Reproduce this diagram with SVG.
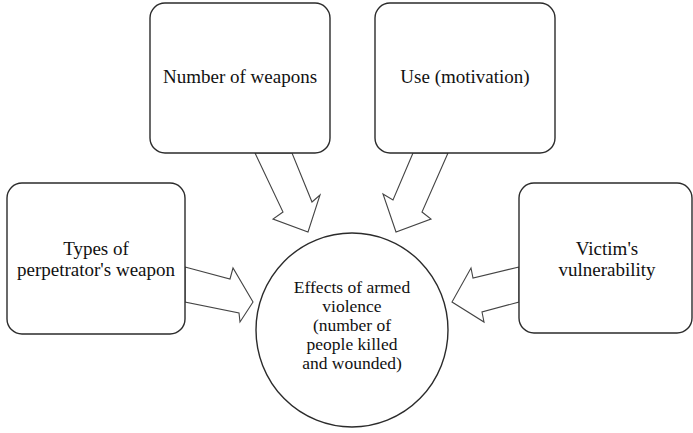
<svg xmlns="http://www.w3.org/2000/svg" width="693" height="433" viewBox="0 0 693 433">
<style>
.box{fill:#fff;stroke:#2b2b2b;stroke-width:1.4}
.arr{fill:#fff;stroke:#444;stroke-width:1.1;stroke-linejoin:miter}
.t{font-family:'Liberation Serif','DejaVu Serif',serif;font-size:19px;fill:#111;text-anchor:middle}
.c{font-size:17.5px}
</style>
<rect width="693" height="433" fill="#fff"/>
<g id="connectors">
<polygon class="arr" points="185,267 230,279 233,268 253,302 240,322 239,313 185,302"/>
<polygon class="arr" points="519,267 473,278 471,268 452,302 484,322 482,312 519,302"/>
<polygon class="arr" points="255,153 283,212 273,219 308,232 320,195 312,202 292,153"/>
<polygon class="arr" points="413,153 393,200 383,194 396,232 431,219 422,212 448,153"/>
</g>
<g id="node-weapons">
<rect class="box" x="150" y="3" width="180" height="150" rx="15"/>
<text class="t" x="240" y="83">Number of weapons</text>
</g>
<g id="node-use">
<rect class="box" x="375" y="3" width="180" height="150" rx="15"/>
<text class="t" x="465" y="83">Use (motivation)</text>
</g>
<g id="node-types">
<rect class="box" x="7" y="183" width="178" height="151" rx="15"/>
<text class="t" x="96" y="255">Types of</text>
<text class="t" x="96" y="276">perpetrator's weapon</text>
</g>
<g id="node-victim">
<rect class="box" x="519" y="183" width="173" height="150" rx="15"/>
<text class="t" x="607" y="255">Victim's</text>
<text class="t" x="607" y="276">vulnerability</text>
</g>
<g id="node-effects">
<ellipse class="box" cx="352" cy="330" rx="96" ry="97"/>
<text class="t c" x="352" y="293">Effects of armed</text>
<text class="t c" x="352" y="312">violence</text>
<text class="t c" x="352" y="331">(number of</text>
<text class="t c" x="352" y="350">people killed</text>
<text class="t c" x="352" y="369">and wounded)</text>
</g>
</svg>
